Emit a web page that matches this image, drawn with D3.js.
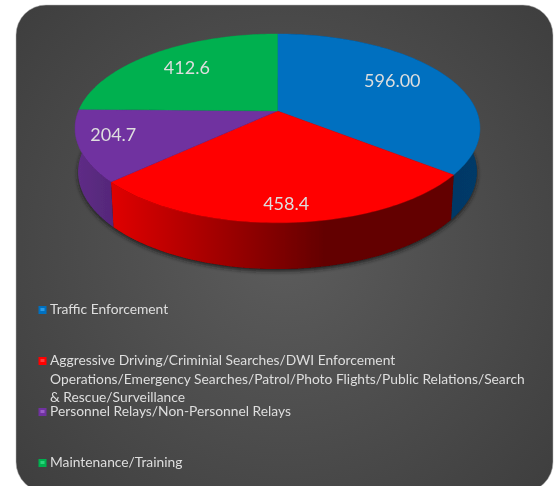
<!DOCTYPE html>
<html>
<head>
<meta charset="utf-8">
<script src="https://cdn.jsdelivr.net/npm/d3@7"></script>
<style>
  html, body { margin: 0; padding: 0; background: #fff; }
  svg { display: block; }
  text { font-family: Lato, "Open Sans", sans-serif; fill: #dedede; }
</style>
</head>
<body>
<svg id="chart" width="555" height="486"></svg>
<script>
var categories = ['Traffic Enforcement', 'Aggressive Driving', 'Personnel Relays', 'Maintenance/Training'];
var values = [596.0, 458.4, 204.7, 412.6];
var valueLabels = ['596.00', '458.4', '204.7', '412.6'];
var colors = ['#0070c0', '#ff0000', '#7030a0', '#00b050'];
var markerLight = ['#2a9be8', '#ff3a3a', '#9a5cc8', '#2ad47a'];
var wallLeft = ['#003058', '#e00000', '#5f2d87', '#008a44'];
var wallRight = ['#003a68', '#640000', '#552779', '#00703a'];
var legendLines = [
  ['Traffic Enforcement'],
  ['Aggressive Driving/Criminial Searches/DWI Enforcement',
   'Operations/Emergency Searches/Patrol/Photo Flights/Public Relations/Search',
   '& Rescue/Surveillance'],
  ['Personnel Relays/Non-Personnel Relays'],
  ['Maintenance/Training']
];

var svg = d3.select('#chart');
var defs = svg.append('defs');

var bg = defs.append('radialGradient').attr('id', 'bg')
  .attr('gradientUnits', 'userSpaceOnUse')
  .attr('cx', 285).attr('cy', 247).attr('r', 385);
bg.append('stop').attr('offset', 0).attr('stop-color', '#5c5c5c');
bg.append('stop').attr('offset', 1).attr('stop-color', '#3c3c3c');

var soft = defs.append('filter').attr('id', 'soft');
soft.append('feGaussianBlur').attr('stdDeviation', 0.5);
var shadowBlur = defs.append('filter').attr('id', 'shadow')
  .attr('x', '-10%').attr('y', '-10%').attr('width', '120%').attr('height', '120%');
shadowBlur.append('feGaussianBlur').attr('stdDeviation', 2);

svg.append('rect')
  .attr('x', 16).attr('y', 5)
  .attr('width', 537).attr('height', 487)
  .attr('rx', 30).attr('ry', 30)
  .attr('fill', 'url(#bg)')
  .attr('stroke', '#b5b5b5').attr('stroke-width', 0.5);

// perspective pie: circle tilted towards the viewer
var cx = 277.5, cy = 111;
var radiusX = 199, radiusY = 91.2, tilt = 0.184;
var depth = 43, bottomScaleX = 0.985, bottomScaleY = 1.03;

function project(angle, r, bottom) {
  var x = r * Math.sin(angle);
  var y = -r * Math.cos(angle);
  var w = 1 - tilt * y;
  var px = radiusX * x / w;
  var py = radiusY * y / w;
  if (bottom) return [cx + px * bottomScaleX, cy + py * bottomScaleY + depth];
  return [cx + px, cy + py];
}

var pie = d3.pie().sort(null)(values);
var line = d3.line();

function arcPoints(a0, a1, bottom) {
  return d3.range(0, 81).map(function(i) {
    return project(a0 + (a1 - a0) * i / 80, 1, bottom);
  });
}

var pieGroup = svg.append('g').attr('filter', 'url(#soft)');

// shadow under the body
pieGroup.append('path')
  .attr('d', line(arcPoints(0, 2 * Math.PI, true)) + 'Z')
  .attr('transform', 'translate(0,2)')
  .attr('fill', '#1c1c1c')
  .attr('filter', 'url(#shadow)');

// side walls, the top face covers whatever is at the back
pie.forEach(function(d, i) {
  var gradId = 'wall' + i;
  var top = arcPoints(d.startAngle, d.endAngle, false);
  var bot = arcPoints(d.startAngle, d.endAngle, true).reverse();
  var xs = d3.extent(top.concat(bot), function(p) { return p[0]; });
  var g = defs.append('linearGradient').attr('id', gradId)
    .attr('gradientUnits', 'userSpaceOnUse')
    .attr('x1', xs[0]).attr('x2', xs[1]).attr('y1', 0).attr('y2', 0);
  g.append('stop').attr('offset', 0).attr('stop-color', wallLeft[i]);
  g.append('stop').attr('offset', i === 1 ? 0.62 : 1).attr('stop-color', wallRight[i]);
  pieGroup.append('path')
    .attr('d', line(top.concat(bot)) + 'Z')
    .attr('fill', 'url(#' + gradId + ')');
});

// top face
pie.forEach(function(d, i) {
  var pts = [project(0, 0, false)].concat(arcPoints(d.startAngle, d.endAngle, false));
  pieGroup.append('path')
    .attr('d', line(pts) + 'Z')
    .attr('fill', colors[i])
    .attr('stroke', colors[i]).attr('stroke-width', 0.4);
});

// value labels, moved by hand in the original so nudged here too
var labelRadius = [0.62, 0.82, 0.83, 0.72];
var labelNudge = [[9, -8], [1, 4.5], [-1, -6], [1, -1]];
pie.forEach(function(d, i) {
  var mid = (d.startAngle + d.endAngle) / 2;
  var p = project(mid, labelRadius[i], false);
  svg.append('text')
    .attr('x', p[0] + labelNudge[i][0]).attr('y', p[1] + labelNudge[i][1])
    .attr('text-anchor', 'middle')
    .attr('dominant-baseline', 'central')
    .attr('font-size', 18)
    .attr('filter', 'url(#soft)')
    .text(valueLabels[i]);
});

// legend
var legendY = d3.scalePoint().domain(categories).range([309, 462]);
var legendRow = svg.selectAll('g.legend-row')
  .data(categories)
  .enter().append('g')
  .attr('class', 'legend-row')
  .attr('filter', 'url(#soft)')
  .attr('transform', function(d) { return 'translate(0,' + legendY(d) + ')'; });

legendRow.append('rect')
  .attr('x', 38.5).attr('y', -3)
  .attr('width', 8).attr('height', 8)
  .attr('fill', function(d, i) { return colors[i]; });

legendRow.append('rect')
  .attr('x', 40.5).attr('y', -1)
  .attr('width', 4).attr('height', 3)
  .attr('fill', function(d, i) { return markerLight[i]; });

legendRow.append('text')
  .attr('font-size', 13.8)
  .each(function(d, i) {
    d3.select(this).selectAll('tspan')
      .data(legendLines[i])
      .enter().append('tspan')
      .attr('x', 50)
      .attr('y', function(t, j) { return 5 + j * 18.6; })
      .text(function(t) { return t; });
  });
</script>
</body>
</html>
